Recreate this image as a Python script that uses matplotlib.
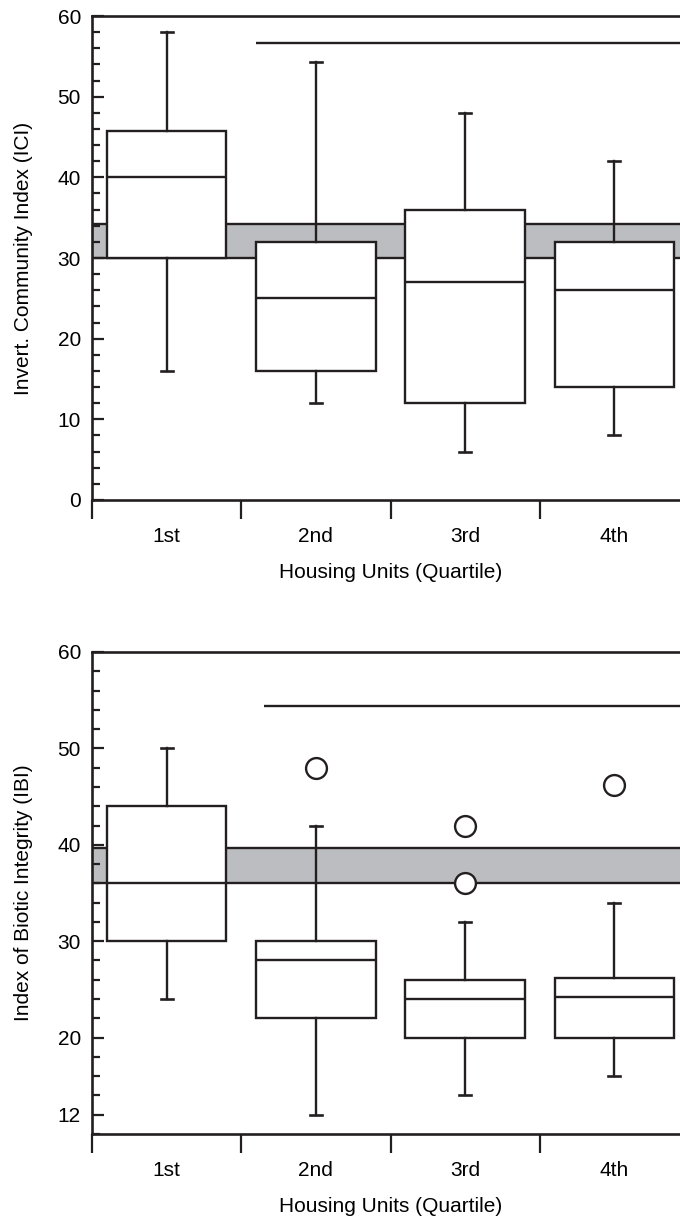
import matplotlib
matplotlib.use("Agg")
import matplotlib.pyplot as plt
from matplotlib.ticker import FixedLocator, MultipleLocator

plt.rcParams["font.family"] = ["Liberation Sans", "DejaVu Sans"]
plt.rcParams["font.size"] = 15

INK = "#231f20"
BAND = "#bcbdc0"

quartiles = ["1st", "2nd", "3rd", "4th"]
centers = [0.5, 1.5, 2.5, 3.5]

# ICI summary per housing quartile
ici_low = [16, 12, 6, 8]
ici_q1 = [30, 16, 12, 14]
ici_med = [40, 25, 27, 26]
ici_q3 = [45.8, 32, 36, 32]
ici_high = [58, 54.3, 48, 42]
ici_out = [[], [], [], []]
ici_band = (30, 34.2)
ici_sig = 56.7

# IBI summary per housing quartile
ibi_low = [24, 12, 14, 16]
ibi_q1 = [30, 22, 20, 20]
ibi_med = [36, 28, 24, 24.2]
ibi_q3 = [44, 30, 26, 26.2]
ibi_high = [50, 42, 32, 34]
ibi_out = [[], [48], [42, 36], [46.2]]
ibi_band = (36, 39.7)
ibi_sig = 54.4


def draw_panel(ax, low, q1, med, q3, high, outliers, band, sig,
               ylabel, ylim, major_ticks, sig_start):
    # criterion band behind the boxes
    ax.axhspan(band[0], band[1], color=BAND, lw=0, zorder=1)
    for y in band:
        ax.axhline(y, color=INK, lw=1.7, zorder=2)

    stats = []
    for i in range(len(med)):
        stats.append({"med": med[i], "q1": q1[i], "q3": q3[i],
                      "whislo": low[i], "whishi": high[i],
                      "fliers": outliers[i]})
    ax.bxp(stats, positions=centers, widths=0.8, capwidths=0.08,
           patch_artist=True, manage_ticks=False, zorder=3,
           boxprops=dict(facecolor="white", edgecolor=INK, linewidth=1.7),
           medianprops=dict(color=INK, linewidth=1.7),
           whiskerprops=dict(color=INK, linewidth=1.7),
           capprops=dict(color=INK, linewidth=1.9),
           flierprops=dict(marker="o", markersize=15, markerfacecolor="white",
                           markeredgecolor=INK, markeredgewidth=1.7))

    # significance bar over quartiles 2-4
    ax.hlines(sig, sig_start, 4, color=INK, lw=1.7, zorder=3)

    ax.set_xlim(0, 4)
    ax.set_ylim(*ylim)
    for side in ("left", "bottom", "top"):
        ax.spines[side].set_linewidth(1.9)
        ax.spines[side].set_color(INK)
    ax.spines["right"].set_visible(False)

    ax.yaxis.set_major_locator(FixedLocator(major_ticks))
    ax.yaxis.set_minor_locator(MultipleLocator(2))
    ax.tick_params(axis="y", which="major", direction="in", length=8.6,
                   width=1.6, color=INK, pad=8)
    ax.tick_params(axis="y", which="minor", direction="in", length=5.8,
                   width=1.6, color=INK)

    ax.set_xticks([0, 1, 2, 3])
    ax.set_xticklabels([])
    ax.set_xticks(centers, minor=True)
    ax.set_xticklabels(quartiles, minor=True)
    ax.tick_params(axis="x", which="major", direction="out", length=13.5,
                   width=1.6, color=INK)
    ax.tick_params(axis="x", which="minor", length=0, pad=19.5)

    ax.set_xlabel("Housing Units (Quartile)", labelpad=12)
    ax.set_ylabel(ylabel)
    ax.yaxis.set_label_coords(-0.099, 0.5)


fig = plt.figure(figsize=(6.8, 12.18), dpi=100)
ax1 = fig.add_axes([92 / 680, 1 - 500 / 1218, 597 / 680, 484 / 1218])
ax2 = fig.add_axes([92 / 680, 1 - 1134 / 1218, 597 / 680, 482 / 1218])

draw_panel(ax1, ici_low, ici_q1, ici_med, ici_q3, ici_high, ici_out,
           ici_band, ici_sig, "Invert. Community Index (ICI)", (0, 60),
           [0, 10, 20, 30, 40, 50, 60], 1.1)
draw_panel(ax2, ibi_low, ibi_q1, ibi_med, ibi_q3, ibi_high, ibi_out,
           ibi_band, ibi_sig, "Index of Biotic Integrity (IBI)", (10, 60),
           [12, 20, 30, 40, 50, 60], 1.15)

fig.savefig("out.png", dpi=100)
